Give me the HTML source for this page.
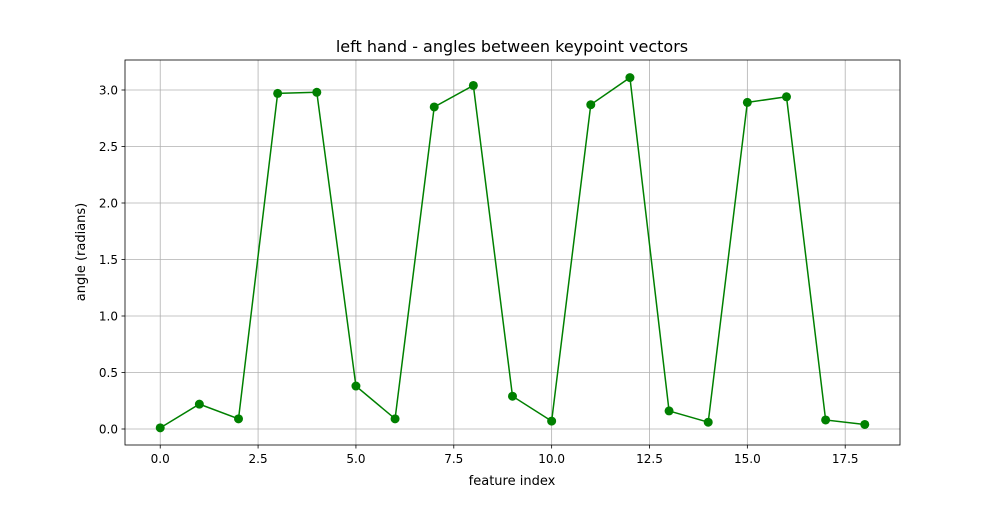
<!DOCTYPE html>
<html><head><meta charset="utf-8"><style>
body{margin:0;background:#fff;font-family:"Liberation Sans","DejaVu Sans",sans-serif}
svg text{font-family:"DejaVu Sans","Liberation Sans",sans-serif}
</style></head><body>
<svg id="chart" width="1000" height="500" xmlns="http://www.w3.org/2000/svg">
<rect width="1000" height="500" fill="#fff"/>
<text x="512" y="52" font-size="16" text-anchor="middle">left hand - angles between keypoint vectors</text>
<g id="grid"></g><g id="axes"></g><g id="series"></g>
<text x="512" y="485" font-size="13" text-anchor="middle">feature index</text>
<text x="0" y="0" font-size="13" text-anchor="middle" transform="translate(85,252) rotate(-90)">angle (radians)</text>
</svg>
<script>
const indices=[0,1,2,3,4,5,6,7,8,9,10,11,12,13,14,15,16,17,18];
const angles=[0.01,0.22,0.09,2.97,2.98,0.38,0.09,2.85,3.04,0.29,0.07,2.87,3.11,0.16,0.06,2.89,2.94,0.08,0.04];
const xTicks=[0,2.5,5,7.5,10,12.5,15,17.5];
const xTickLabels=["0.0","2.5","5.0","7.5","10.0","12.5","15.0","17.5"];
const yTicks=[0,0.5,1,1.5,2,2.5,3];
const yTickLabels=["0.0","0.5","1.0","1.5","2.0","2.5","3.0"];
const L=125,R=900,T=60,B=445,xmin=-0.9,xmax=18.9,ymin=-0.1416,ymax=3.2655;
const NS="http://www.w3.org/2000/svg";
const xs=v=>L+(v-xmin)/(xmax-xmin)*(R-L);
const ys=v=>B-(v-ymin)/(ymax-ymin)*(B-T);
function mk(tag,attrs,parent){const e=document.createElementNS(NS,tag);for(const k in attrs)e.setAttribute(k,attrs[k]);parent.appendChild(e);return e;}
const grid=document.getElementById('grid'),axes=document.getElementById('axes'),series=document.getElementById('series');
xTicks.forEach((t,i)=>{
 const g=mk('line',{x1:xs(t),x2:xs(t),y1:T,y2:B,stroke:'#b0b0b0','stroke-width':0.8},grid);
 
 
 mk('line',{x1:xs(t),x2:xs(t),y1:B,y2:B+3.5,stroke:'#000','stroke-width':0.8},axes);
 const tx=mk('text',{x:xs(t),y:B+18,'font-size':12,'text-anchor':'middle'},axes);
 tx.textContent=xTickLabels[i];
 
 
});
yTicks.forEach((t,i)=>{
 const g=mk('line',{x1:L,x2:R,y1:ys(t),y2:ys(t),stroke:'#b0b0b0','stroke-width':0.8},grid);
 
 
 mk('line',{x1:L-3.5,x2:L,y1:ys(t),y2:ys(t),stroke:'#000','stroke-width':0.8},axes);
 const tx=mk('text',{x:L-7,y:ys(t)+4.5,'font-size':12,'text-anchor':'end'},axes);
 tx.textContent=yTickLabels[i];
 
 
});
const frame=mk('rect',{x:L,y:T,width:R-L,height:B-T,fill:'none',stroke:'#000','stroke-width':0.8},axes);


const line=mk('polyline',{points:indices.map((x,i)=>xs(x)+','+ys(angles[i])).join(' '),fill:'none',stroke:'#008000','stroke-width':1.5},series);


indices.forEach((x,i)=>{
 const c=mk('circle',{cx:xs(x),cy:ys(angles[i]),r:4.5,fill:'#008000'},series);
 
 
});
</script>
</body></html>
